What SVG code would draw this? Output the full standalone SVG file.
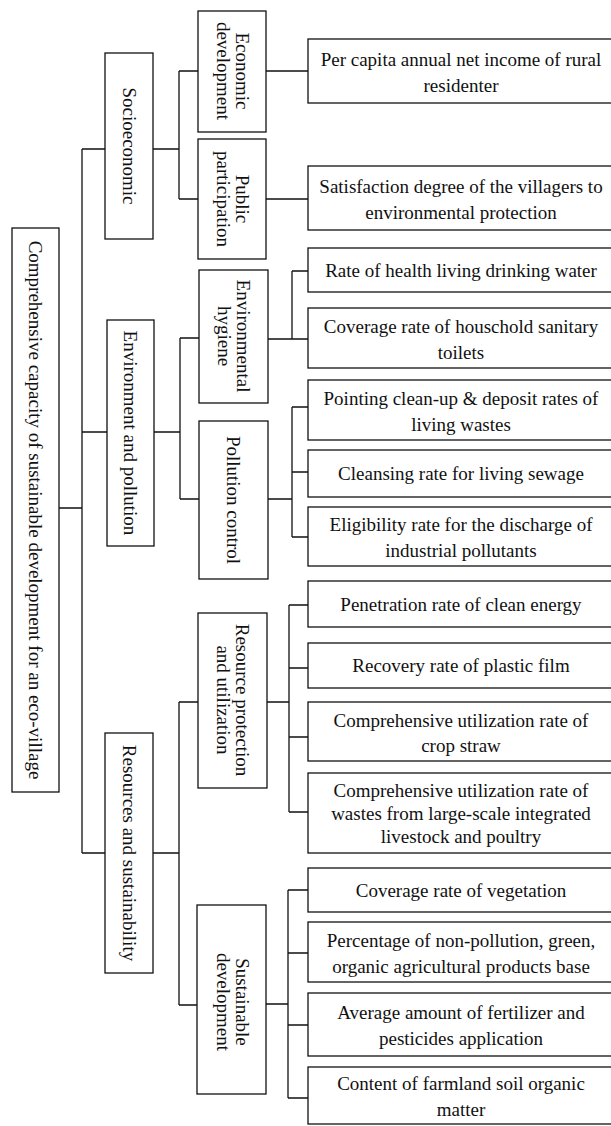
<svg xmlns="http://www.w3.org/2000/svg" width="611" height="1126" viewBox="0 0 611 1126">
<style>
.box{fill:#fff;stroke:#111;stroke-width:1.3}
.t{font-family:"Liberation Serif","Times New Roman",serif;font-size:19px;fill:#111;text-anchor:middle}
.c{fill:none;stroke:#111;stroke-width:1.3}
</style>
<rect width="611" height="1126" fill="#fff"/>
<g id="connectors" class="c">
<path d="M59 508H82M82 149V853M82 149H105M82 432H107M82 853H105"/>
<path d="M153 149H179M179 71V199M179 71H198M179 199H198M266 71H308M266 199H308"/>
<path d="M154 432H180M180 338V499M180 338H199M180 499H199"/>
<path d="M268 339H308M292 271V339M292 271H308"/>
<path d="M268 499H292M292 407V537M292 407H308M292 472H308M292 537H308"/>
<path d="M153 853H179M179 702V1005M179 702H198M179 1005H197"/>
<path d="M267 702H289M289 605V812M289 605H308M289 668H308M289 737H308M289 812H308"/>
<path d="M266 1004H288M288 890V1098M288 890H308M288 953H308M288 1025H308M288 1098H308"/>
</g>
<g id="root">
<rect class="box" x="12" y="228" width="47" height="564"/>
<text class="t" transform="rotate(90)" x="510" y="-29">Comprehensive capacity of sustainable development for an eco-village</text>
</g>
<g id="socioeconomic">
<rect class="box" x="105" y="53" width="48" height="186"/>
<text class="t" transform="rotate(90)" x="146" y="-123">Socioeconomic</text>
</g>
<g id="env-pollution">
<rect class="box" x="107" y="320" width="47" height="226"/>
<text class="t" transform="rotate(90)" x="433" y="-124">Environment and pollution</text>
</g>
<g id="resources-sustainability">
<rect class="box" x="105" y="733" width="48" height="240"/>
<text class="t" transform="rotate(90)" x="853" y="-123">Resources and sustainability</text>
</g>
<g id="economic-development">
<rect class="box" x="198" y="11" width="68" height="121"/>
<text class="t" transform="rotate(90)"><tspan x="71" y="-236">Economic</tspan><tspan x="71" y="-217">development</tspan></text>
</g>
<g id="public-participation">
<rect class="box" x="198" y="139" width="68" height="120"/>
<text class="t" transform="rotate(90)"><tspan x="199" y="-236">Public</tspan><tspan x="199" y="-217">participation</tspan></text>
</g>
<g id="environmental-hygiene">
<rect class="box" x="199" y="270" width="69" height="133"/>
<text class="t" transform="rotate(90)"><tspan x="336" y="-237">Environmental</tspan><tspan x="336" y="-218">hygiene</tspan></text>
</g>
<g id="pollution-control">
<rect class="box" x="199" y="421" width="69" height="158"/>
<text class="t" transform="rotate(90)" x="500" y="-227">Pollution control</text>
</g>
<g id="resource-protection">
<rect class="box" x="198" y="613" width="69" height="175"/>
<text class="t" transform="rotate(90)"><tspan x="700" y="-236">Resource protection</tspan><tspan x="700" y="-217">and utilization</tspan></text>
</g>
<g id="sustainable-development">
<rect class="box" x="197" y="905" width="69" height="189"/>
<text class="t" transform="rotate(90)"><tspan x="1002" y="-236">Sustainable</tspan><tspan x="1002" y="-217">development</tspan></text>
</g>
<g id="leaf1">
<rect class="box" x="308" y="39" width="310" height="64"/>
<text class="t"><tspan x="461" y="66">Per capita annual net income of rural</tspan><tspan x="461" y="92">residenter</tspan></text>
</g>
<g id="leaf2">
<rect class="box" x="308" y="166" width="310" height="64"/>
<text class="t"><tspan x="461" y="193">Satisfaction degree of the villagers to</tspan><tspan x="461" y="219">environmental protection</tspan></text>
</g>
<g id="leaf3">
<rect class="box" x="308" y="248" width="310" height="44"/>
<text class="t" x="461" y="277">Rate of health living drinking water</text>
</g>
<g id="leaf4">
<rect class="box" x="308" y="308" width="310" height="60"/>
<text class="t"><tspan x="461" y="333">Coverage rate of houschold sanitary</tspan><tspan x="461" y="359">toilets</tspan></text>
</g>
<g id="leaf5">
<rect class="box" x="308" y="380" width="310" height="60"/>
<text class="t"><tspan x="461" y="405">Pointing clean-up &amp; deposit rates of</tspan><tspan x="461" y="431">living wastes</tspan></text>
</g>
<g id="leaf6">
<rect class="box" x="308" y="450" width="310" height="47"/>
<text class="t" x="461" y="480">Cleansing rate for living sewage</text>
</g>
<g id="leaf7">
<rect class="box" x="308" y="507" width="310" height="59"/>
<text class="t"><tspan x="461" y="531">Eligibility rate for the discharge of</tspan><tspan x="461" y="557">industrial pollutants</tspan></text>
</g>
<g id="leaf8">
<rect class="box" x="308" y="581" width="310" height="46"/>
<text class="t" x="461" y="611">Penetration rate of clean energy</text>
</g>
<g id="leaf9">
<rect class="box" x="308" y="643" width="310" height="45"/>
<text class="t" x="461" y="672">Recovery rate of plastic film</text>
</g>
<g id="leaf10">
<rect class="box" x="308" y="702" width="310" height="59"/>
<text class="t"><tspan x="461" y="727">Comprehensive utilization rate of</tspan><tspan x="461" y="752">crop straw</tspan></text>
</g>
<g id="leaf11">
<rect class="box" x="308" y="773" width="310" height="80"/>
<text class="t"><tspan x="461" y="797">Comprehensive utilization rate of</tspan><tspan x="461" y="820">wastes from large-scale integrated</tspan><tspan x="461" y="843">livestock and poultry</tspan></text>
</g>
<g id="leaf12">
<rect class="box" x="308" y="868" width="310" height="44"/>
<text class="t" x="461" y="897">Coverage rate of vegetation</text>
</g>
<g id="leaf13">
<rect class="box" x="308" y="922" width="310" height="60"/>
<text class="t"><tspan x="461" y="947">Percentage of non-pollution, green,</tspan><tspan x="461" y="973">organic agricultural products base</tspan></text>
</g>
<g id="leaf14">
<rect class="box" x="308" y="993" width="310" height="63"/>
<text class="t"><tspan x="461" y="1019">Average amount of fertilizer and</tspan><tspan x="461" y="1045">pesticides application</tspan></text>
</g>
<g id="leaf15">
<rect class="box" x="308" y="1067" width="310" height="57"/>
<text class="t"><tspan x="461" y="1090">Content of farmland soil organic</tspan><tspan x="461" y="1116">matter</tspan></text>
</g>
</svg>
